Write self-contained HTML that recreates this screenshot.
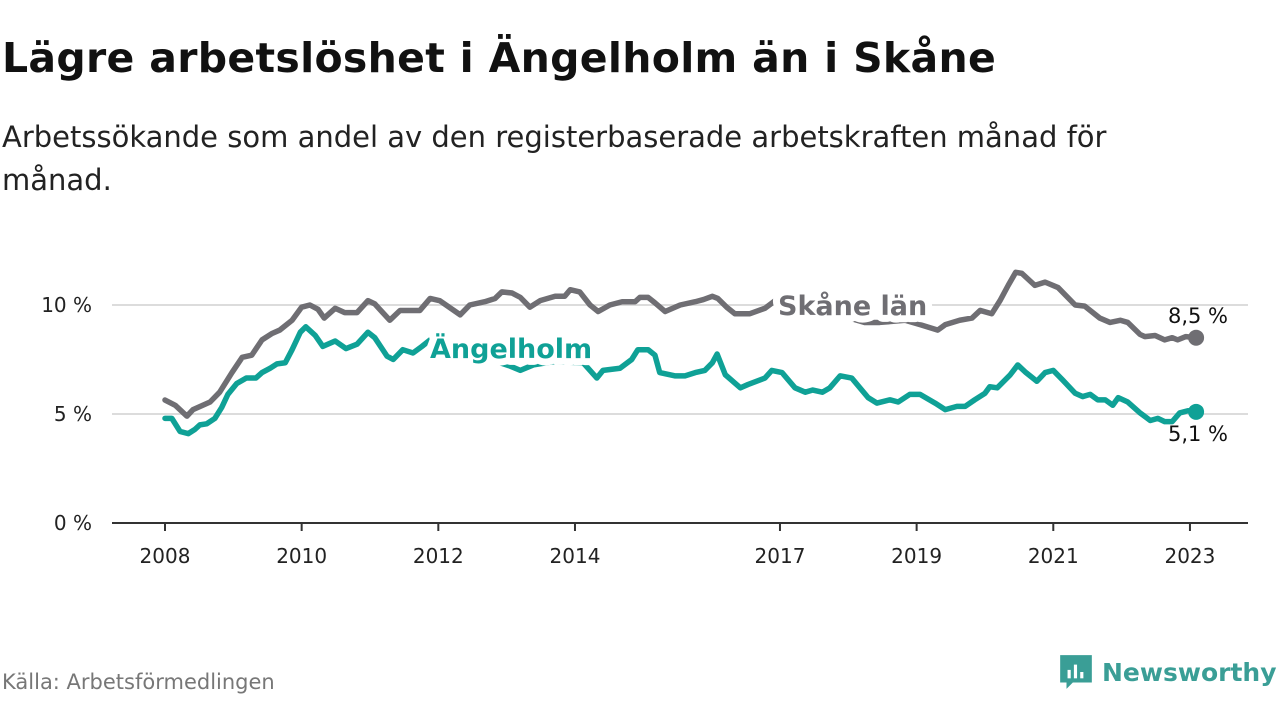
<!DOCTYPE html>
<html><head><meta charset="utf-8">
<style>
body{margin:0;width:1280px;height:720px;background:#fff;font-family:"DejaVu Sans","Liberation Sans",sans-serif;overflow:hidden;position:relative}
.t{position:absolute;left:2px;top:34px;font-size:41px;font-weight:bold;color:#111;margin:0;white-space:nowrap;letter-spacing:0.3px}
.s{position:absolute;left:2px;top:116px;font-size:29px;color:#222;line-height:43px;width:1200px}
.f{position:absolute;left:2px;top:670px;font-size:21px;color:#777}
.logo{position:absolute;left:1058px;top:653px;display:flex;align-items:center;gap:8px;color:#3a9e96;font-weight:bold;font-size:25px}
</style></head><body>
<h1 class="t">Lägre arbetslöshet i Ängelholm än i Skåne</h1>
<div class="s">Arbetssökande som andel av den registerbaserade arbetskraften månad för månad.</div>
<svg id="c" width="1280" height="720" style="position:absolute;left:0;top:0"></svg>
<div class="f">Källa: Arbetsförmedlingen</div>
<div class="logo"><svg width="36" height="38" viewBox="0 0 34 36"><path d="M2 2h30v26H14l-6 6v-6H2z" fill="#3a9e96"/><rect x="9" y="16" width="3" height="8" fill="#fff"/><rect x="15" y="11" width="3" height="13" fill="#fff"/><rect x="21" y="18" width="3" height="6" fill="#fff"/></svg><span>Newsworthy</span></div>
<script>
const skaneDates=[0,0.15,0.32,0.41,0.66,0.80,0.98,1.13,1.27,1.42,1.57,1.68,1.86,2.00,2.12,2.24,2.33,2.49,2.63,2.81,2.97,3.07,3.29,3.44,3.73,3.88,4.02,4.32,4.46,4.68,4.83,4.93,5.08,5.20,5.34,5.49,5.71,5.85,5.93,6.07,6.22,6.34,6.51,6.69,6.88,6.95,7.07,7.17,7.32,7.54,7.76,7.88,8.01,8.09,8.22,8.34,8.56,8.78,8.93,9.15,9.44,9.73,10.02,10.24,10.46,10.83,11.05,11.31,11.42,11.63,11.81,11.93,12.10,12.22,12.34,12.45,12.54,12.73,12.88,13.07,13.32,13.46,13.68,13.83,13.98,14.09,14.27,14.34,14.49,14.63,14.74,14.82,14.94,15.09];
const skaneValues=[5.64,5.4,4.9,5.2,5.55,6.0,6.9,7.6,7.7,8.4,8.7,8.85,9.3,9.9,10.0,9.8,9.4,9.85,9.65,9.65,10.2,10.05,9.3,9.75,9.75,10.3,10.2,9.55,10.0,10.15,10.3,10.6,10.55,10.35,9.9,10.2,10.4,10.4,10.7,10.6,10.0,9.7,10.0,10.15,10.15,10.35,10.35,10.1,9.7,10.0,10.15,10.25,10.4,10.3,9.9,9.6,9.6,9.85,10.2,9.9,9.7,9.6,9.4,9.2,9.2,9.3,9.1,8.85,9.1,9.3,9.4,9.75,9.6,10.2,10.9,11.5,11.45,10.9,11.05,10.8,10.0,9.95,9.4,9.2,9.3,9.2,8.65,8.55,8.6,8.4,8.5,8.4,8.55,8.5];
const angDates=[0,0.10,0.22,0.34,0.44,0.51,0.61,0.73,0.83,0.92,1.05,1.19,1.33,1.42,1.54,1.64,1.76,1.86,1.98,2.06,2.20,2.31,2.49,2.65,2.81,2.97,3.07,3.25,3.34,3.48,3.63,3.76,3.88,4.32,4.76,5.05,5.20,5.39,5.68,6.12,6.32,6.41,6.66,6.83,6.92,7.07,7.17,7.24,7.46,7.61,7.76,7.90,8.01,8.08,8.20,8.42,8.53,8.78,8.88,9.03,9.22,9.37,9.48,9.62,9.73,9.88,10.05,10.29,10.42,10.61,10.73,10.90,11.05,11.27,11.42,11.59,11.71,11.85,12.00,12.07,12.18,12.37,12.48,12.60,12.76,12.88,13.00,13.14,13.32,13.43,13.54,13.65,13.76,13.87,13.95,14.09,14.27,14.42,14.53,14.63,14.74,14.85,14.97,15.09];
const angValues=[4.8,4.8,4.2,4.1,4.3,4.5,4.55,4.8,5.3,5.9,6.4,6.65,6.65,6.9,7.1,7.3,7.35,7.95,8.75,9.0,8.6,8.1,8.35,8.0,8.2,8.75,8.5,7.65,7.5,7.95,7.8,8.1,8.4,7.6,7.5,7.2,7.0,7.25,7.4,7.35,6.65,7.0,7.1,7.5,7.95,7.95,7.7,6.9,6.75,6.75,6.9,7.0,7.35,7.75,6.8,6.2,6.35,6.65,7.0,6.9,6.2,6.0,6.1,6.0,6.2,6.75,6.65,5.75,5.5,5.65,5.55,5.9,5.9,5.5,5.2,5.35,5.35,5.65,5.95,6.25,6.2,6.8,7.25,6.9,6.5,6.9,7.0,6.55,5.95,5.8,5.9,5.65,5.65,5.4,5.75,5.55,5.05,4.7,4.8,4.65,4.65,5.05,5.15,5.1];
const yTicks=[0,5,10];
const yTickLabels=["0 %","5 %","10 %"];
const xTicks=[2008,2010,2012,2014,2017,2019,2021,2023];
const endLabels=["8,5 %","5,1 %"];
const NS="http://www.w3.org/2000/svg";
const svg=document.getElementById('c');
const X=yr=>165+(yr-2008)*68.33;
const Y=v=>523-v*21.8;
function mk(tag,attrs,parent){const e=document.createElementNS(NS,tag);for(const k in attrs)e.setAttribute(k,attrs[k]);(parent||svg).appendChild(e);return e;}
yTicks.forEach((t,i)=>{
  if(t>0){const g=mk('line',{x1:112,x2:1248,y1:Y(t),y2:Y(t),stroke:'#dcdcdc','stroke-width':2});
  
  }
  const l=mk('text',{x:92,y:Y(t)+7,'text-anchor':'end','font-size':20,fill:'#222'});l.textContent=yTickLabels[i];
  
  
});
const ax=mk('line',{x1:112,x2:1248,y1:Y(0),y2:Y(0),stroke:'#333','stroke-width':2});


xTicks.forEach(t=>{
  const tk=mk('line',{x1:X(t),x2:X(t),y1:Y(0),y2:Y(0)+8,stroke:'#333','stroke-width':2});
  
  
  const l=mk('text',{x:X(t),y:Y(0)+40,'text-anchor':'middle','font-size':20,fill:'#222'});l.textContent=t;
  
  
});
function line(d,v,col,name){
  const p=mk('polyline',{points:d.map((x,i)=>X(2008+x)+','+Y(v[i])).join(' '),fill:'none',stroke:col,'stroke-width':5.5,'stroke-linejoin':'round','stroke-linecap':'round'});
  
  
  const c=mk('circle',{cx:X(2008+d[d.length-1]),cy:Y(v[v.length-1]),r:8,fill:col});
  
  
}
line(skaneDates,skaneValues,'#6f6e73','skane-line');
line(angDates,angValues,'#0fa196','angelholm-line');
function lab(x,y,txt,col,name){
  const t=mk('text',{x:x,y:y,'font-size':27,'font-weight':'bold',fill:col,stroke:'#fff','stroke-width':14,'stroke-linejoin':'round','paint-order':'stroke'});t.textContent=txt;
  
  
}
lab(778,315,'Skåne län','#6f6e73','skane-series-label');
lab(430,358,'Ängelholm','#0fa196','angelholm-series-label');
const e1=mk('text',{x:1228,y:323,'text-anchor':'end','font-size':21,fill:'#111'});e1.textContent=endLabels[0];


const e2=mk('text',{x:1228,y:441,'text-anchor':'end','font-size':21,fill:'#111'});e2.textContent=endLabels[1];


</script>
</body></html>
